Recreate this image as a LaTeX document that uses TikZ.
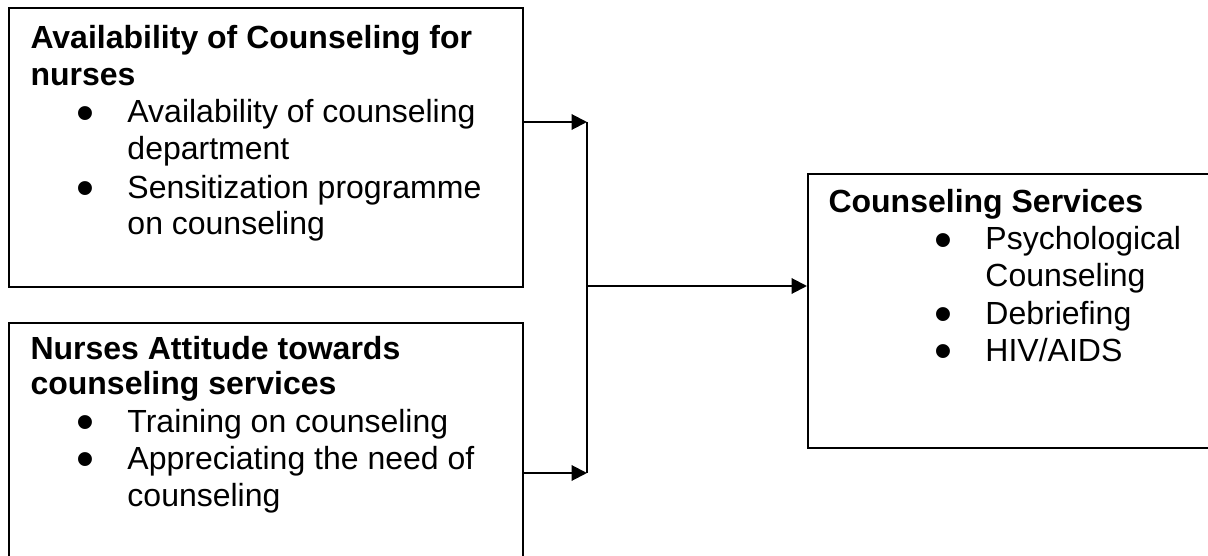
\documentclass[tikz,border=0pt]{standalone}
\usepackage{fontspec}
\setmainfont{Liberation Sans}
\usepackage{graphicx}
\usepackage{tikz}
\usetikzlibrary{arrows.meta}
\newcommand{\itm}{\makebox[17.6pt][l]{\hspace*{-1.6pt}\smash{\raisebox{-2.7pt}{\scalebox{1.6}{\textbullet}}}}}
\newcommand{\cnt}{\hspace*{17.6pt}}
\tikzset{
  box/.style={draw, line width=0.75pt, anchor=north west, inner sep=0pt},
  txt/.style={anchor=base west, inner sep=0pt, font=\fontsize{12}{13.8}\selectfont},
  head/.style={txt, font=\fontsize{12}{13.8}\selectfont\bfseries},
  arr/.style={line width=0.75pt, -{Triangle[length=5.8pt, width=5.8pt]}}
}

\begin{document}
\begin{tikzpicture}[x=0.375pt, y=-0.375pt]
  \useasboundingbox (0,0) rectangle (1208,556);
  \clip (0,0) rectangle (1208,556);
  \node[box, minimum width=192.75pt, minimum height=104.6pt] (avail) at (8,7) {};
  \node[box, minimum width=192.75pt, minimum height=95pt] (att) at (8,322) {};
  \node[box, minimum width=157pt, minimum height=102.75pt] (serv) at (807,173) {};

  \node[head] (a1) at (30,49) {Availability of Counseling for};
  \node[head] (a2) at (30,86) {nurses};
  \node[txt] (a3) at (80,123) {\itm Availability of counseling};
  \node[txt] (a4) at (80,160) {\cnt department};
  \node[txt] (a5) at (80,198) {\itm Sensitization programme};
  \node[txt] (a6) at (80,235) {\cnt on counseling};

  \node[head] (n1) at (30,359) {Nurses Attitude towards};
  \node[head] (n2) at (30,395) {counseling services};
  \node[txt] (n3) at (80,432) {\itm Training on counseling};
  \node[txt] (n4) at (80,469) {\itm Appreciating the need of};
  \node[txt] (n5) at (80,506) {\cnt counseling};

  \node[head] (s1) at (828,213) {Counseling Services};
  \node[txt] (s2) at (938,250) {\itm Psychological};
  \node[txt] (s3) at (938,287) {\cnt Counseling};
  \node[txt] (s4) at (938,324) {\itm Debriefing};
  \node[txt] (s5) at (938,361) {\itm HIV/AIDS};

  \coordinate (top) at (587,122);
  \coordinate (mid) at (587,286);
  \coordinate (bot) at (587,473);
  \draw[arr] (avail.east |- top) -- (top);
  \draw[arr] (att.east |- bot) -- (bot);
  \draw[line width=0.75pt] (top) -- (bot);
  \draw[arr] (mid) -- (serv.west |- mid);
\end{tikzpicture}
\end{document}
